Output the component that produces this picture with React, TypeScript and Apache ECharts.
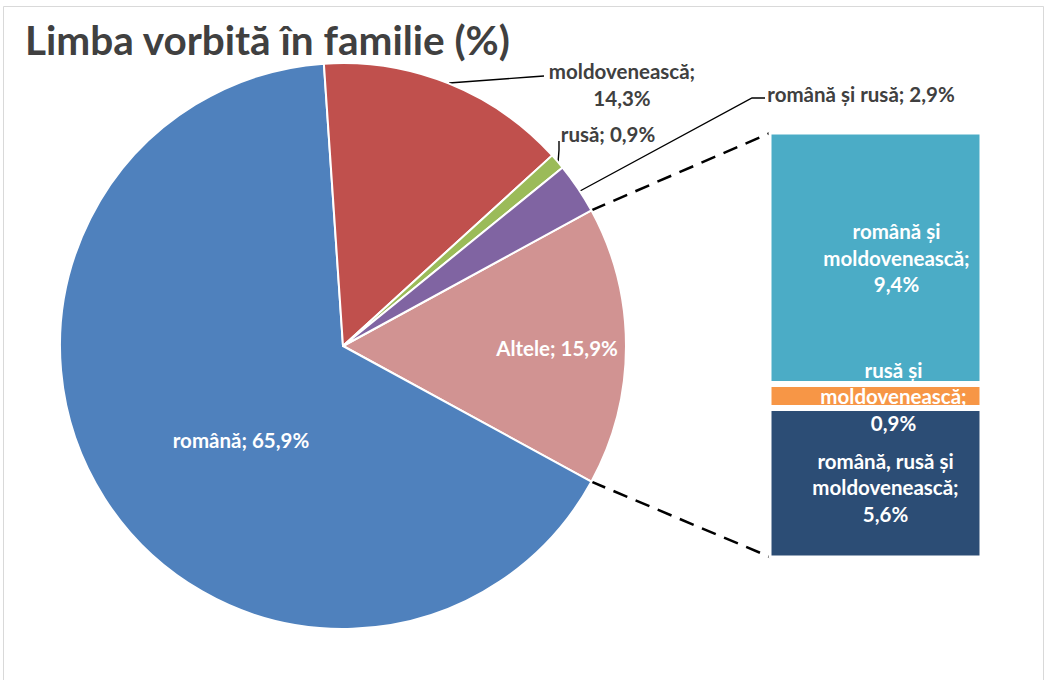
import React, { useEffect, useRef } from "react";
import * as echarts from "echarts";

const titleText = "Limba vorbită în familie (%)";
const pieNames = ["Altele", "română", "moldovenească", "rusă", "română și rusă"];
const pieValues = [15.9, 65.9, 14.3, 0.9, 2.9];
const pieColors = ["#D19392", "#4F81BD", "#C0504D", "#9BBB59", "#8064A2"];
const barNames = ["română, rusă și\nmoldovenească", "rusă și\nmoldovenească", "română și\nmoldovenească"];
const barValues = [5.6, 0.9, 9.4];
const barColors = ["#2C4D75", "#F79646", "#4BACC6"];

const fmt = (v: number) => v.toFixed(1).replace(".", ",");

const FONT = "Lato";
const TXT = "#404040";
const FS = 20.5;

// label anchor positions (label centres) for the pie
const pieLabelPos: [number, number][] = [
  [557, 348],
  [241, 440],
  [622, 84],
  [608, 134],
  [861, 94],
];
const pieLabelLines: (number[][] | null)[] = [
  null,
  null,
  [[449, 83], [530, 77], [544, 76]],
  [[558, 163], [559, 150], [559, 141]],
  [[580, 191], [752, 98], [765, 98]],
];
const barLabelOffsets = [[10, 4], [18, 0], [21, 0]];
const barZ = [2, 4, 3];

export default function App() {
  const ref = useRef<HTMLDivElement>(null);
  useEffect(() => {
    const chart = echarts.init(ref.current!, undefined, { renderer: "svg" });
    const cx = 343, cy = 346, r = 283;
    const total = pieValues.reduce((a, b) => a + b, 0);
    const half = (pieValues[0] / total) * 180;
    const startAngle = half;
    const rad = (half * Math.PI) / 180;
    const pTop = [cx + r * Math.cos(rad), cy - r * Math.sin(rad)];
    const pBot = [cx + r * Math.cos(rad), cy + r * Math.sin(rad)];
    const gridTop = 131.5, gridBottomY = 558.5, gridLeft = 768.5, gridRight = 982.5;

    chart.setOption({
      animation: false,
      backgroundColor: "#ffffff",
      title: {
        text: titleText,
        left: 20,
        top: 14,
        textStyle: { fontFamily: FONT, fontWeight: "bold", fontSize: 40.5, color: TXT },
      },
      graphic: [
        {
          type: "rect",
          shape: { x: 3.5, y: 6.5, width: 1040, height: 700 },
          style: { fill: "none", stroke: "#d9d9d9", lineWidth: 1 },
          z: 0,
        },
        {
          type: "line",
          shape: { x1: pTop[0], y1: pTop[1], x2: gridLeft + 1.5, y2: gridTop + 1.5 },
          style: { stroke: "#000", lineWidth: 2.5, lineDash: [15, 9] },
        },
        {
          type: "line",
          shape: { x1: pBot[0], y1: pBot[1], x2: gridLeft + 1.5, y2: gridBottomY - 1.5 },
          style: { stroke: "#000", lineWidth: 2.5, lineDash: [15, 9] },
        },
      ],
      grid: {
        left: gridLeft,
        top: gridTop,
        width: gridRight - gridLeft,
        height: gridBottomY - gridTop,
      },
      xAxis: { type: "category", data: ["x"], show: false },
      yAxis: { type: "value", min: 0, max: barValues.reduce((a, b) => a + b, 0), show: false },
      series: [
        {
          type: "pie",
          center: [cx, cy],
          radius: [0, r],
          startAngle,
          clockwise: true,
          avoidLabelOverlap: false,
          itemStyle: { borderColor: "#ffffff", borderWidth: 2 },
          data: pieNames.map((n, i) => ({
            name: n,
            value: pieValues[i],
            itemStyle: { color: pieColors[i] },
            label: {
              show: true,
              position: i < 2 ? "inside" : "outside",
              color: i < 2 ? "#ffffff" : TXT,
              fontFamily: FONT,
              fontWeight: "bold",
              fontSize: FS,
              lineHeight: 27,
              align: "center",
              formatter: i === 2 ? `${n};\n${fmt(pieValues[i])}%` : `${n}; ${fmt(pieValues[i])}%`,
            },
            labelLine: { show: i >= 2, lineStyle: { color: "#000", width: 1.4 } },
          })),
          labelLayout: (p: any) => {
            const i = p.dataIndex;
            const o: any = {
              x: pieLabelPos[i][0],
              y: pieLabelPos[i][1],
              align: "center",
              verticalAlign: "middle",
            };
            if (pieLabelLines[i]) o.labelLinePoints = pieLabelLines[i];
            return o;
          },
        },
        ...barValues.map((v, i) => ({
          type: "bar",
          stack: "s",
          barWidth: "100%",
          name: barNames[i],
          data: [v],
          itemStyle: { color: barColors[i], borderColor: "#ffffff", borderWidth: 3 },
          label: {
            show: true,
            position: "inside",
            offset: barLabelOffsets[i],
            color: "#ffffff",
            fontFamily: FONT,
            fontWeight: "bold",
            fontSize: FS,
            lineHeight: 26.5,
            align: "center",
            formatter: () => `${barNames[i]};\n${fmt(v)}%`,
          },
          z: barZ[i],
        })),
      ],
    });
    return () => chart.dispose();
  }, []);
  return (
    <div
      ref={ref}
      style={{ position: "fixed", left: 0, top: 0, width: 1046, height: 680 }}
    />
  );
}
